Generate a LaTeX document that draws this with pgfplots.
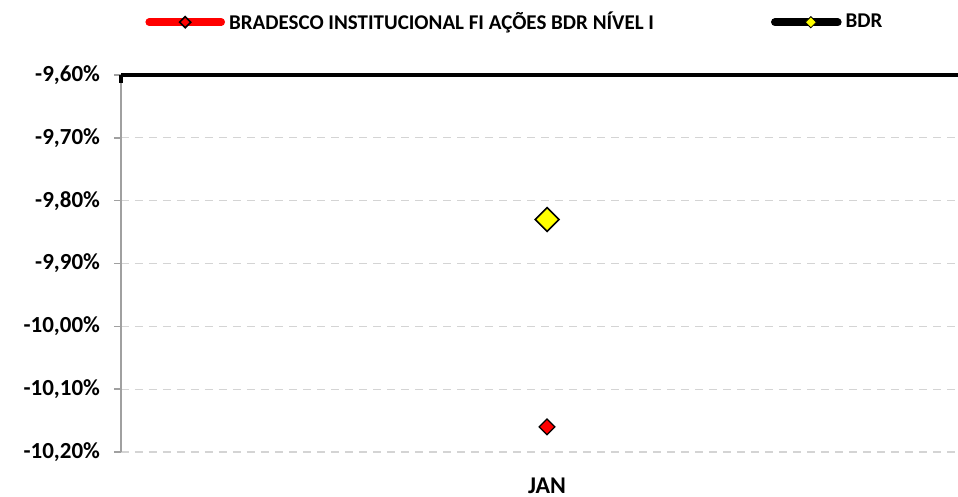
\documentclass[border=0pt]{standalone}
\usepackage{pgfplots}
\pgfplotsset{compat=1.18}
\usepackage{fontspec}
\setmainfont{Carlito}
\definecolor{axisgray}{HTML}{A0A0A0}
\definecolor{gridgray}{HTML}{D4D4D4}
\definecolor{fundred}{HTML}{FF0000}
\definecolor{bdryellow}{HTML}{FFFF00}

\begin{document}
\begin{tikzpicture}
  \begin{axis}[
    scale only axis,
    width=418.5pt,
    height=188.5pt,
    xmin=-0.509, xmax=0.491,
    ymin=-10.2, ymax=-9.6,
    xtick={0},
    xticklabels={JAN},
    ytick={-10.2,-10.1,-10.0,-9.9,-9.8,-9.7,-9.6},
    yticklabels={-10{,}20\%,-10{,}10\%,-10{,}00\%,-9{,}90\%,-9{,}80\%,-9{,}70\%,-9{,}60\%},
    separate axis lines,
    axis y line*=left,
    axis x line*=bottom,
    y axis line style={axisgray,line width=0.75pt,-},
    x axis line style={draw=none,-},
    xtick style={draw=none},
    ytick style={axisgray,line width=0.75pt},
    tick align=outside,
    major tick length=3.5pt,
    ymajorgrids,
    major grid style={gridgray,line width=0.6pt,dash pattern=on 4pt off 3pt},
    yticklabel style={font=\bfseries\fontsize{11.5}{13}\selectfont,xshift=-3.5pt},
    xticklabel style={font=\bfseries\fontsize{12}{14}\selectfont,yshift=-6pt},
    legend columns=2,
    legend cell align=left,
    legend style={draw=none,fill=none,inner sep=0pt,
      font=\bfseries\fontsize{10.5}{12}\selectfont,
      at={(axis description cs:0.0287,1.14)},anchor=west,
      /tikz/every even column/.append style={column sep=56.5pt}},
    after end axis/.code={
      \draw[black,line width=2pt] (rel axis cs:0,1) -- (rel axis cs:1.05,1);
      \draw[black,line width=2pt] (rel axis cs:0,1) -- ++(0,-4pt);
    },
  ]
  \addplot[only marks, mark=square*, mark size=2.8pt,
    mark options={rotate=45,fill=fundred,draw=black,line width=0.6pt},
    legend image code/.code={
      \draw[fundred,line width=3.8pt,line cap=round] (0pt,0pt) -- (36pt,0pt);
      \draw[black,fill=fundred,line width=0.8pt] (18pt,2.8pt) -- (20.8pt,0pt) -- (18pt,-2.8pt) -- (15.2pt,0pt) -- cycle;
    }]
    coordinates {(0,-10.16)};
  \addlegendentry{BRADESCO INSTITUCIONAL FI AÇÕES BDR NÍVEL I}
  \addplot[only marks, mark=square*, mark size=4.2pt,
    mark options={rotate=45,fill=bdryellow,draw=black,line width=0.8pt},
    legend image code/.code={
      \draw[black,line width=3.8pt,line cap=round] (0pt,0pt) -- (31.5pt,0pt);
      \path[draw=none,fill=none] (0pt,0pt) -- (33pt,0pt);
      \draw[black,fill=bdryellow,line width=0.4pt] (18pt,2.8pt) -- (20.8pt,0pt) -- (18pt,-2.8pt) -- (15.2pt,0pt) -- cycle;
    }]
    coordinates {(0,-9.83)};
  \addlegendentry{BDR}
  \end{axis}
  \pgfresetboundingbox
  \path[use as bounding box] (-60.5pt,-22.5pt) rectangle (418.5pt,226pt);
\end{tikzpicture}
\end{document}
